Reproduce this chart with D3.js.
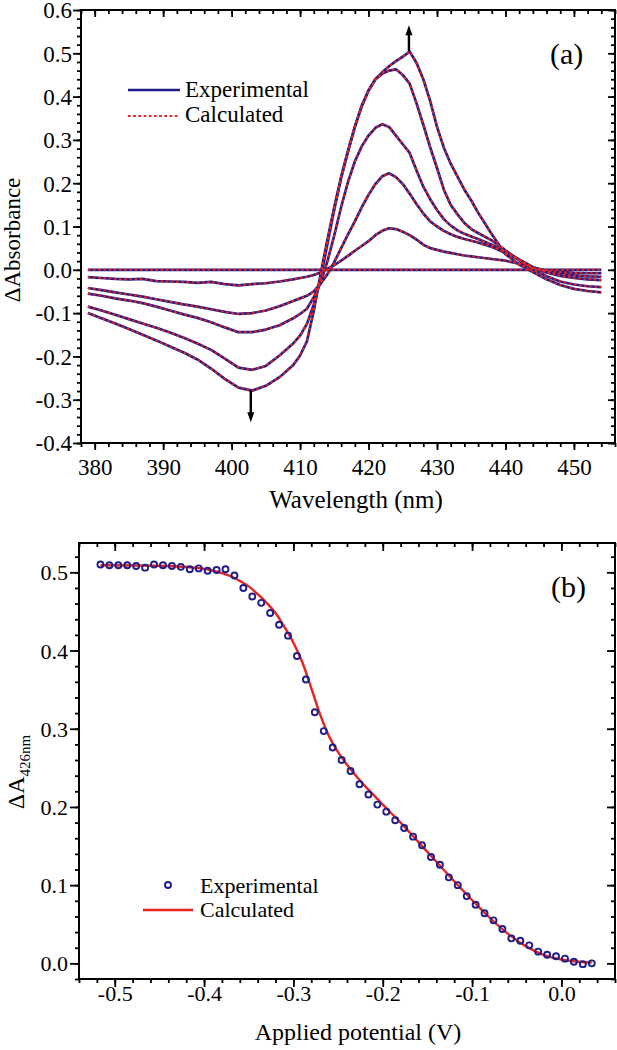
<!DOCTYPE html>
<html><head><meta charset="utf-8">
<script src="https://cdn.jsdelivr.net/npm/d3@7"></script>
<style>
html,body{margin:0;padding:0;background:#fff;}
svg, svg text{font-family:"Liberation Serif","Times New Roman",Times,"DejaVu Serif",serif !important;fill:#000;}
</style></head>
<body>
<svg id="chart" width="617" height="1050" font-family="Liberation Serif, Times New Roman, DejaVu Serif, serif"></svg>
<script>
// ---------- Panel (a) data ----------
const wavelength = [379,381,383,385,387,389,391,393,395,397,399,401,403,405,407,409,
  410,411,412,413,414,415,416,417,418,419,420,421,422,423,424,425,426,427,428,429,430,431,432,433,434,435,436,
  438,440,442,444,446,448,450,452,454];
const dAbs0 = [0,0,0,0,0,0,0,0,0,0,0,0,0,0,0,0,
  0,0,0,0,0,0,0,0,0,0,0,0,0,0,0,0,0,0,0,0,0,0,0,0,0,0,0,
  0,0,0,0,0,0,0,0,0];
const dAbs1 = [-0.017,-0.019,-0.021,-0.022,-0.021,-0.026,-0.027,-0.028,-0.030,-0.028,-0.033,-0.036,-0.033,-0.031,-0.027,-0.022,
  -0.019,-0.016,-0.012,-0.006,0.002,0.011,0.021,0.032,0.044,0.055,0.066,0.080,0.090,0.096,0.094,0.088,0.080,0.070,0.058,0.050,0.046,0.042,0.039,0.036,0.033,0.031,0.029,
  0.025,0.021,0.014,0.005,-0.002,-0.005,-0.007,-0.008,-0.008];
const dAbs2 = [-0.042,-0.047,-0.052,-0.057,-0.062,-0.068,-0.074,-0.080,-0.085,-0.091,-0.097,-0.102,-0.100,-0.094,-0.084,-0.072,
  -0.066,-0.060,-0.050,-0.032,-0.010,0.018,0.050,0.082,0.112,0.144,0.173,0.198,0.216,0.223,0.214,0.198,0.176,0.152,0.130,0.112,0.100,0.090,0.082,0.076,0.071,0.067,0.063,
  0.053,0.039,0.023,0.006,-0.004,-0.010,-0.013,-0.015,-0.016];
const dAbs3 = [-0.055,-0.060,-0.066,-0.071,-0.077,-0.085,-0.094,-0.103,-0.111,-0.121,-0.133,-0.144,-0.144,-0.138,-0.128,-0.112,
  -0.102,-0.090,-0.063,-0.030,0.020,0.080,0.145,0.203,0.250,0.285,0.310,0.328,0.336,0.330,0.310,0.290,0.270,0.230,0.192,0.163,0.138,0.117,0.102,0.091,0.083,0.077,0.071,
  0.058,0.042,0.024,0.006,-0.006,-0.014,-0.019,-0.022,-0.024];
const dAbs4 = [-0.085,-0.094,-0.104,-0.114,-0.124,-0.134,-0.145,-0.157,-0.170,-0.185,-0.205,-0.226,-0.231,-0.222,-0.198,-0.170,
  -0.152,-0.125,-0.080,-0.020,0.060,0.140,0.212,0.273,0.330,0.378,0.414,0.440,0.453,0.460,0.463,0.450,0.430,0.385,0.335,0.283,0.235,0.185,0.150,0.128,0.108,0.094,0.085,
  0.068,0.045,0.022,0.002,-0.015,-0.027,-0.034,-0.038,-0.040];
const dAbs5 = [-0.100,-0.112,-0.124,-0.137,-0.150,-0.163,-0.177,-0.191,-0.207,-0.228,-0.252,-0.272,-0.279,-0.268,-0.248,-0.220,
  -0.198,-0.165,-0.095,-0.010,0.070,0.145,0.215,0.275,0.330,0.378,0.414,0.440,0.456,0.470,0.482,0.492,0.504,0.478,0.440,0.390,0.330,0.282,0.245,0.215,0.185,0.160,0.132,
  0.082,0.036,0.012,-0.005,-0.022,-0.035,-0.044,-0.049,-0.052];
const spectraSeries = [dAbs0, dAbs1, dAbs2, dAbs3, dAbs4, dAbs5];
const xTicksA = [380,390,400,410,420,430,440,450];
const yTicksA = [-0.4,-0.3,-0.2,-0.1,0.0,0.1,0.2,0.3,0.4,0.5,0.6];

// ---------- Panel (b) data ----------
const potential = [-0.516,-0.506,-0.496,-0.486,-0.476,-0.466,-0.456,-0.446,-0.436,-0.426,
  -0.416,-0.406,-0.396,-0.386,-0.376,-0.366,-0.356,-0.346,-0.336,-0.326,
  -0.316,-0.306,-0.296,-0.286,-0.276,-0.266,-0.256,-0.246,-0.236,-0.226,
  -0.216,-0.206,-0.196,-0.186,-0.176,-0.166,-0.156,-0.146,-0.136,-0.126,
  -0.116,-0.106,-0.096,-0.086,-0.076,-0.066,-0.056,-0.046,-0.036,-0.026,
  -0.016,-0.006,0.004,0.014,0.024,0.034];
const dA426Exp = [0.510,0.509,0.509,0.509,0.508,0.506,0.510,0.509,0.508,0.507,
  0.504,0.505,0.502,0.503,0.504,0.496,0.480,0.469,0.461,0.448,
  0.433,0.419,0.393,0.363,0.321,0.297,0.276,0.260,0.246,0.229,
  0.216,0.203,0.194,0.183,0.173,0.162,0.151,0.136,0.126,0.110,
  0.100,0.086,0.075,0.064,0.055,0.044,0.032,0.029,0.023,0.015,
  0.011,0.009,0.006,0.002,-0.001,0.000];
const potentialCalc = [-0.516,-0.48,-0.44,-0.42,-0.40,
  -0.39,-0.38,-0.37,-0.36,-0.35,-0.34,-0.33,-0.32,-0.31,-0.30,-0.29,-0.28,-0.27,-0.26,-0.25,-0.24,-0.23,-0.22,-0.21,-0.20,
  -0.18,-0.16,-0.14,-0.12,-0.10,-0.08,-0.06,-0.04,-0.02,0.00,0.02,0.034];
const dA426Calc = [0.509,0.5088,0.508,0.507,0.5045,
  0.502,0.499,0.495,0.489,0.482,0.472,0.461,0.448,0.430,0.410,0.385,0.352,0.318,0.290,0.270,0.254,0.240,0.227,0.215,0.203,
  0.180,0.155,0.130,0.105,0.081,0.058,0.038,0.022,0.011,0.005,0.002,0.001];
const xTicksB = [-0.5,-0.4,-0.3,-0.2,-0.1,0.0];
const yTicksB = [0.0,0.1,0.2,0.3,0.4,0.5];

// ---------- drawing ----------
const NAVY = "#1f1d8a", RED = "#e8231c";
const svg = d3.select("#chart");
const fmt1 = d => (Math.abs(d) < 1e-9 ? 0 : d).toFixed(1);
const fmt0 = d => String(Math.round(d));

function minorVals(domain, step) {
  const out = [];
  const start = Math.ceil(domain[0] / step - 1e-9);
  const end = Math.floor(domain[1] / step + 1e-9);
  for (let i = start; i <= end; i++) out.push(+(i * step).toFixed(6));
  return out;
}

function frame(g, x, y, o) {
  const [x0, x1] = x.range(), [y0, y1] = y.range();
  const clean = sel => { sel.select(".domain").remove(); sel.attr("font-family", null); sel.selectAll("line").attr("stroke-width", 1.8); };
  const xMinor = minorVals(x.domain(), o.xMinor);
  const yMinor = minorVals(y.domain(), o.yMinor);
  g.append("g").attr("transform", `translate(0,${y0})`)
    .call(d3.axisBottom(x).tickValues(xMinor).tickSize(4).tickFormat("")).call(clean);
  const bx = g.append("g").attr("transform", `translate(0,${y0})`)
    .call(d3.axisBottom(x).tickValues(o.xTicks).tickSize(o.tick).tickSizeOuter(0).tickFormat(o.xFmt)).call(clean);
  bx.selectAll("text").attr("dy", null).attr("y", o.xLabelBase).attr("font-size", o.fs);
  g.append("g").attr("transform", `translate(0,${y1})`)
    .call(d3.axisBottom(x).tickValues(xMinor).tickSize(4).tickFormat("")).call(clean);
  g.append("g").attr("transform", `translate(0,${y1})`)
    .call(d3.axisBottom(x).tickValues(o.xTicks).tickSize(o.tick).tickFormat("")).call(clean);
  g.append("g").attr("transform", `translate(${x0},0)`)
    .call(d3.axisLeft(y).tickValues(yMinor).tickSize(4).tickFormat("")).call(clean);
  const ly = g.append("g").attr("transform", `translate(${x0},0)`)
    .call(d3.axisLeft(y).tickValues(o.yTicks).tickSize(o.ltick).tickPadding(o.lpad).tickFormat(fmt1)).call(clean);
  ly.selectAll("text").attr("font-size", o.fs).attr("dy", "0.34em");
  g.append("g").attr("transform", `translate(${x1},0)`)
    .call(d3.axisLeft(y).tickValues(yMinor).tickSize(4).tickFormat("")).call(clean);
  g.append("g").attr("transform", `translate(${x1},0)`)
    .call(d3.axisLeft(y).tickValues(o.yTicks).tickSize(o.tick).tickFormat("")).call(clean);
  g.append("rect").attr("x", x0).attr("y", y1).attr("width", x1 - x0).attr("height", y0 - y1)
    .attr("fill", "none").attr("stroke", "#000").attr("stroke-width", 2);
}

// ===== Panel (a) =====
const xA = d3.scaleLinear().domain([378, 456]).range([81, 615]);
const yA = d3.scaleLinear().domain([-0.4, 0.6]).range([443, 10]);
const gA = svg.append("g");

const lineA = d3.line().x((d, i) => xA(wavelength[i])).y(d => yA(d));
gA.append("g").selectAll("path").data(spectraSeries).join("path")
  .attr("d", lineA).attr("fill", "none").attr("stroke", NAVY).attr("stroke-width", 2.7)
  .attr("stroke-linejoin", "round");
gA.append("g").selectAll("path").data(spectraSeries).join("path")
  .attr("d", lineA).attr("fill", "none").attr("stroke", RED).attr("stroke-width", 1.9)
  .attr("stroke-dasharray", "2.6 2.6");

frame(gA, xA, yA, {xTicks: xTicksA, yTicks: yTicksA, xMinor: 2, yMinor: 0.02, xFmt: fmt0,
  tick: 7, ltick: 8, lpad: 1, fs: 23, xLabelBase: 32});

function arrow(g, xv, yBase, yTip, sc) {
  const px = sc.x(xv), pb = sc.y(yBase), pt = sc.y(yTip);
  const dir = pt < pb ? -1 : 1;
  g.append("line").attr("x1", px).attr("x2", px).attr("y1", pb).attr("y2", pt - dir * 7)
    .attr("stroke", "#000").attr("stroke-width", 2.4);
  g.append("path").attr("d", `M${px},${pt} L${px - 3.5},${pt - dir * 10} L${px + 3.5},${pt - dir * 10} Z`)
    .attr("fill", "#000");
}
arrow(gA, 425.9, 0.505, 0.565, {x: xA, y: yA});
arrow(gA, 402.8, -0.279, -0.352, {x: xA, y: yA});

gA.append("line").attr("x1", 128).attr("x2", 180).attr("y1", 90).attr("y2", 90)
  .attr("stroke", NAVY).attr("stroke-width", 2.7);
gA.append("line").attr("x1", 128).attr("x2", 180).attr("y1", 116).attr("y2", 116)
  .attr("stroke", RED).attr("stroke-width", 2).attr("stroke-dasharray", "2.6 2.6");
gA.append("text").attr("x", 185).attr("y", 97).attr("font-size", 23).text("Experimental");
gA.append("text").attr("x", 185).attr("y", 122).attr("font-size", 23).text("Calculated");
gA.append("text").attr("x", 550).attr("y", 64).attr("font-size", 30).text("(a)");

gA.append("text").attr("x", 356).attr("y", 508).attr("font-size", 25)
  .attr("text-anchor", "middle").text("Wavelength (nm)");
gA.append("text").attr("transform", "translate(20,240) rotate(-90)").attr("font-size", 23)
  .attr("text-anchor", "middle").text("ΔAbsorbance");

// ===== Panel (b) =====
const xB = d3.scaleLinear().domain([-0.54, 0.06]).range([79, 615]);
const yB = d3.scaleLinear().domain([-0.02, 0.5375]).range([979, 543]);
const gB = svg.append("g");

const lineB = d3.line().x((d, i) => xB(potentialCalc[i])).y(d => yB(d)).curve(d3.curveMonotoneX);
gB.append("path").datum(dA426Calc).attr("d", lineB).attr("fill", "none")
  .attr("stroke", RED).attr("stroke-width", 2.4);
gB.append("g").selectAll("circle").data(dA426Exp).join("circle")
  .attr("cx", (d, i) => xB(potential[i])).attr("cy", d => yB(d)).attr("r", 3)
  .attr("fill", "none").attr("stroke", NAVY).attr("stroke-width", 1.9);

frame(gB, xB, yB, {xTicks: xTicksB, yTicks: yTicksB, xMinor: 0.02, yMinor: 0.02, xFmt: fmt1,
  tick: 8, ltick: 9, lpad: 2, fs: 22, xLabelBase: 22});

gB.append("circle").attr("cx", 168).attr("cy", 885).attr("r", 3)
  .attr("fill", "none").attr("stroke", NAVY).attr("stroke-width", 1.9);
gB.append("line").attr("x1", 143).attr("x2", 193).attr("y1", 910).attr("y2", 910)
  .attr("stroke", RED).attr("stroke-width", 2.4);
gB.append("text").attr("x", 200).attr("y", 893).attr("font-size", 22).text("Experimental");
gB.append("text").attr("x", 200).attr("y", 917).attr("font-size", 22).text("Calculated");
gB.append("text").attr("x", 551).attr("y", 597).attr("font-size", 30).text("(b)");

gB.append("text").attr("x", 358).attr("y", 1040).attr("font-size", 24)
  .attr("text-anchor", "middle").text("Applied potential (V)");
const yt = gB.append("text").attr("transform", "translate(24,772) rotate(-90)")
  .attr("font-size", 24).attr("text-anchor", "middle");
yt.append("tspan").text("ΔA");
yt.append("tspan").attr("font-size", 15).attr("dy", 6).text("426nm");
</script>
</body></html>
